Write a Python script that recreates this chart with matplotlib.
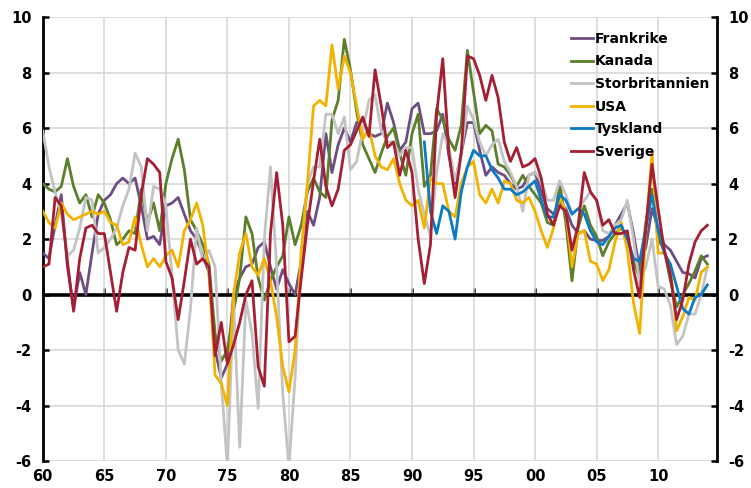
import numpy as np
import matplotlib.pyplot as plt

# half-year observations, 1960 - 2014 (x axis shows two-digit years, 60 .. 114)
years = np.arange(60, 114.01, 0.5)

frankrike = [1.5, 1.3, 2.5, 3.6, 1.0, -0.5, 0.8, 0.0, 1.5, 2.9,
             3.4, 3.6, 4.0, 4.2, 4.0, 4.2, 3.2, 2.0, 2.1, 1.8,
             3.2, 3.3, 3.5, 2.9, 2.3, 2.0, 1.4, 0.8, -2.0, -3.0,
             -2.5, 0.0, 0.6, 1.0, 1.1, 1.7, 1.9, 1.0, 0.2, 0.9,
             0.4, 0.0, 1.2, 3.0, 2.5, 3.5, 5.8, 4.4, 5.4, 6.0,
             5.5, 6.2, 6.3, 5.8, 5.7, 5.8, 6.9, 6.2, 5.2, 5.5,
             6.7, 6.9, 5.8, 5.8, 5.9, 6.5, 5.0, 4.0, 5.1, 6.2,
             6.2, 5.2, 4.3, 4.6, 4.4, 4.3, 4.0, 3.8, 3.9, 4.3,
             4.4, 3.7, 3.1, 2.9, 3.3, 3.1, 2.5, 2.2, 2.3, 2.0,
             1.95, 1.95, 2.1, 2.5, 2.9, 3.3, 2.2, 0.9, 1.7, 3.1,
             2.4, 1.8, 1.6, 1.2, 0.8, 0.75, 0.6, 1.3, 1.4]

kanada = [4.0, 3.8, 3.7, 3.9, 4.9, 3.9, 3.3, 3.6, 2.8, 3.6,
          3.3, 2.7, 1.8, 2.0, 2.3, 2.2, 3.8, 2.6, 3.3, 2.3,
          4.0, 4.9, 5.6, 4.5, 2.7, 2.3, 1.8, 1.1, -1.4, -2.4,
          -2.0, -0.6, 0.6, 2.8, 2.2, 0.6, -0.2, 0.5, 1.0, 1.4,
          2.8, 1.8, 2.5, 3.7, 4.2, 3.7, 3.5, 6.3, 7.0, 9.2,
          8.1, 6.6, 5.4, 4.9, 4.4, 5.1, 5.7, 6.0, 5.1, 4.3,
          5.8, 6.5, 3.9, 4.3, 6.7, 6.3, 5.6, 5.2, 6.1, 8.8,
          7.3, 5.8, 6.1, 5.9, 4.7, 4.6, 4.3, 3.9, 4.3, 3.9,
          3.6, 3.3, 2.6, 2.5, 4.0, 2.6, 0.5, 2.4, 3.2, 2.5,
          2.1, 1.4, 1.9, 2.2, 2.4, 2.1, 1.2, 0.6, 2.6, 3.8,
          2.0, 1.6, 0.5, -0.45, 0.0, 0.4, 0.85, 1.4, 1.1]

storbritannien = [5.9, 4.6, 3.7, 2.9, 1.4, 1.6, 2.4, 3.5, 3.4, 1.5,
                  1.7, 2.0, 2.4, 3.2, 3.8, 5.1, 4.6, 2.3, 3.9, 3.8,
                  3.2, 0.7, -2.0, -2.5, -0.5, 2.4, 1.2, 1.6, 1.0, -3.2,
                  -6.2, -0.2, -5.5, -0.2, -1.4, -4.1, 2.0, 4.6, 1.0, -3.6,
                  -6.2, -3.0, 1.5, 4.0, 4.6, 4.6, 6.5, 6.5, 5.8, 6.4,
                  4.5, 4.8, 5.9, 7.0, 7.2, 5.9, 5.5, 5.5, 5.0, 5.3,
                  5.3, 3.8, 2.9, 2.1, 4.4, 5.8, 5.3, 4.1, 5.1, 6.8,
                  6.3, 5.5, 5.0, 5.4, 5.6, 4.8, 4.4, 3.9, 3.0, 4.3,
                  4.4, 4.1, 3.4, 3.4, 4.1, 3.6, 2.9, 3.1, 3.4, 3.7,
                  3.4, 2.3, 2.2, 2.5, 2.7, 3.4, 2.0, 0.4, 1.0, 2.0,
                  0.3, 0.2, -0.4, -1.8, -1.5, -0.7, -0.7, 0.0, 1.0]

usa = [3.0, 2.6, 2.4, 3.3, 2.9, 2.7, 2.8, 2.9, 3.0, 2.9,
       3.0, 2.6, 2.5, 1.8, 1.9, 2.8, 1.8, 1.0, 1.3, 1.0,
       1.4, 1.6, 1.0, 2.3, 2.7, 3.3, 2.5, 0.8, -2.9, -3.2,
       -4.0, 0.0, 1.5, 2.2, 1.0, 0.7, 1.3, 0.5, -0.8, -2.6,
       -3.5, -2.0, 1.5, 4.0, 6.8, 7.0, 6.8, 9.0, 7.4, 8.6,
       8.0, 6.8, 5.6, 6.0, 5.0, 4.6, 4.5, 4.9, 4.0, 3.4,
       3.2, 3.4, 2.4, 4.2, 4.0, 4.0, 3.0, 2.8, 4.0, 4.6,
       4.8, 3.6, 3.3, 3.8, 3.3, 4.1, 4.0, 3.4, 3.3, 3.5,
       3.0, 2.3, 1.7, 2.4, 3.5, 3.0, 1.0, 2.2, 2.3, 1.2,
       1.1, 0.5, 0.9, 1.9, 2.6, 1.6, -0.3, -1.4, 2.3, 5.1,
       1.5, 1.5, 1.0, -1.3, -0.8, -0.1, -0.2, 0.8, 1.0]

# Tyskland starts 1991
tyskland = [np.nan] * 62 + [
            5.5, 3.0, 2.2, 3.2, 3.0, 2.0, 3.7, 4.6,
            5.2, 5.0, 5.0, 4.5, 4.2, 3.8, 3.8, 3.6, 3.7, 3.9,
            4.1, 3.4, 2.8, 2.8, 3.6, 3.4, 2.9, 3.1, 2.9, 2.3,
            1.9, 1.8, 2.1, 2.4, 2.5, 2.0, 1.3, 1.2, 2.4, 3.6,
            2.3, 1.5, 1.1, 0.3, -0.5, -0.7, -0.1, 0.0, 0.35]

sverige = [1.0, 1.1, 3.5, 3.2, 1.2, -0.6, 1.3, 2.4, 2.5, 2.2,
           2.2, 0.8, -0.6, 0.8, 1.7, 1.6, 3.6, 4.9, 4.7, 4.4,
           1.2, 0.6, -0.9, 0.5, 2.0, 1.1, 1.3, 1.0, -2.2, -1.0,
           -2.5, -1.8, -1.0, 0.0, 0.5, -2.6, -3.3, 2.2, 4.4, 2.5,
           -1.7, -1.5, 0.6, 2.5, 4.1, 5.6, 3.9, 3.2, 3.8, 5.2,
           5.4, 5.9, 6.4, 5.7, 8.1, 6.8, 5.3, 5.5, 4.3, 5.2,
           4.4, 2.0, 0.4, 1.8, 6.5, 8.5, 5.1, 3.5, 5.1, 8.6,
           8.5, 7.9, 7.0, 7.9, 7.1, 5.5, 4.8, 5.3, 4.6, 4.7,
           4.9, 4.2, 2.9, 2.5, 3.2, 3.0, 1.6, 2.5, 4.4, 3.7,
           3.4, 2.5, 2.7, 2.2, 2.2, 2.3, 0.9, -0.1, 2.4, 4.7,
           3.1, 1.6, 0.7, -0.9, -0.2, 1.1, 1.9, 2.3, 2.5]

names = ["Frankrike", "Kanada", "Storbritannien", "USA", "Tyskland", "Sverige"]
colors = ["#6E4E82", "#5B7F2B", "#C3C3C3", "#F2B300", "#0A7BC4", "#A51E33"]
series = [frankrike, kanada, storbritannien, usa, tyskland, sverige]

xticks = list(range(60, 111, 5))
xlabels = ["60", "65", "70", "75", "80", "85", "90", "95", "00", "05", "10"]
yticks = list(range(-6, 11, 2))

plt.rcParams['font.family'] = ['DejaVu Sans']
fig = plt.figure(figsize=(7.51, 4.88), dpi=100)
ax = fig.add_axes([0.057, 0.055, 0.898, 0.91])

for vals, name, col in zip(series, names, colors):
    ax.plot(years, vals, color=col, lw=2.0, label=name, solid_joinstyle='round', zorder=3)

ax.axhline(0, color='black', lw=2.6, zorder=2.5)

ax.set_xlim(60, 114.8)
ax.set_ylim(-6, 10)
ax.grid(True, color="#D4D4D4", lw=1.1)
ax.set_axisbelow(True)

ax.set_xticks(xticks)
ax.set_xticklabels(xlabels, fontsize=10.5, fontweight='bold')
ax.tick_params(axis='x', length=0, pad=6)
ax.set_yticks(yticks)
ax.set_yticklabels([str(v) for v in yticks], fontsize=10.5, fontweight='bold')
ax.tick_params(axis='y', direction='in', length=4, width=1.8, pad=8,
               left=True, right=True, labelleft=True, labelright=True)

for s in ['top', 'bottom']:
    ax.spines[s].set_visible(False)
for s in ['left', 'right']:
    ax.spines[s].set_linewidth(2)
    ax.spines[s].set_color('black')

# small tick marks sitting on the zero line
zero = ax.secondary_xaxis(6 / 16)
zero.spines['bottom'].set_visible(False)
zero.set_xticks(xticks)
zero.tick_params(direction='in', length=5, width=1.8, labelbottom=False)

leg = ax.legend(loc='upper left', bbox_to_anchor=(0.765, 0.995), frameon=False,
                handlelength=1.6, handletextpad=0.1, labelspacing=0.62,
                prop={'weight': 'bold', 'size': 10})

fig.savefig("out.png", dpi=100)
